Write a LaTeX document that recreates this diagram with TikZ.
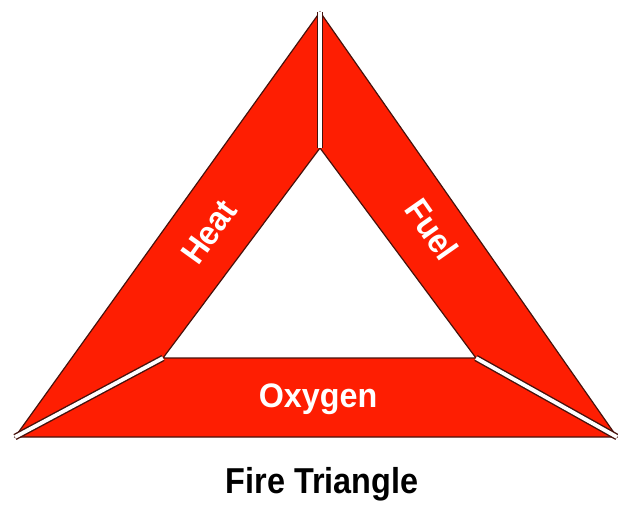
\documentclass[tikz,border=0pt]{standalone}
\usepackage{fontspec}
\setmainfont{Liberation Sans}
\definecolor{firered}{RGB}{254,30,2}
\definecolor{edgecol}{RGB}{70,18,12}
\tikzset{
  piece/.style={fill=firered, draw=edgecol, line width=1.2pt, line join=miter},
  sep/.style={draw=edgecol, line width=1.4pt, double=white, double distance=3.8pt},
  lbl/.style={text=white, font=\bfseries\fontsize{34}{38}\selectfont, inner sep=0pt},
  ttl/.style={text=black, font=\bfseries\fontsize{36}{40}\selectfont, inner sep=0pt}
}
\begin{document}
\begin{tikzpicture}[x=1pt,y=-1pt]
\useasboundingbox (0,0) rectangle (618,509);
% outer and inner vertices
\coordinate (A) at (320,12);
\coordinate (B) at (15,437);
\coordinate (C) at (617,437);
\coordinate (a) at (320,148);
\coordinate (b) at (163,358);
\coordinate (c) at (476,358);
% ring
\path[piece, even odd rule] (A) -- (C) -- (B) -- cycle (a) -- (b) -- (c) -- cycle;
% separators
\draw[sep] (A) -- (a);
\draw[sep] (B) -- (b);
\draw[sep] (C) -- (c);
% labels
\node[lbl, rotate=54.3, xscale=0.94] (heat) at (209,232) {Heat};
\node[lbl, rotate=-55, xscale=0.94] (fuel) at (432,229) {Fuel};
\node[lbl, xscale=0.95] (oxy) at (318,399) {Oxygen};
\node[ttl, xscale=0.9] (title) at (322,484) {Fire Triangle};
\end{tikzpicture}
\end{document}
